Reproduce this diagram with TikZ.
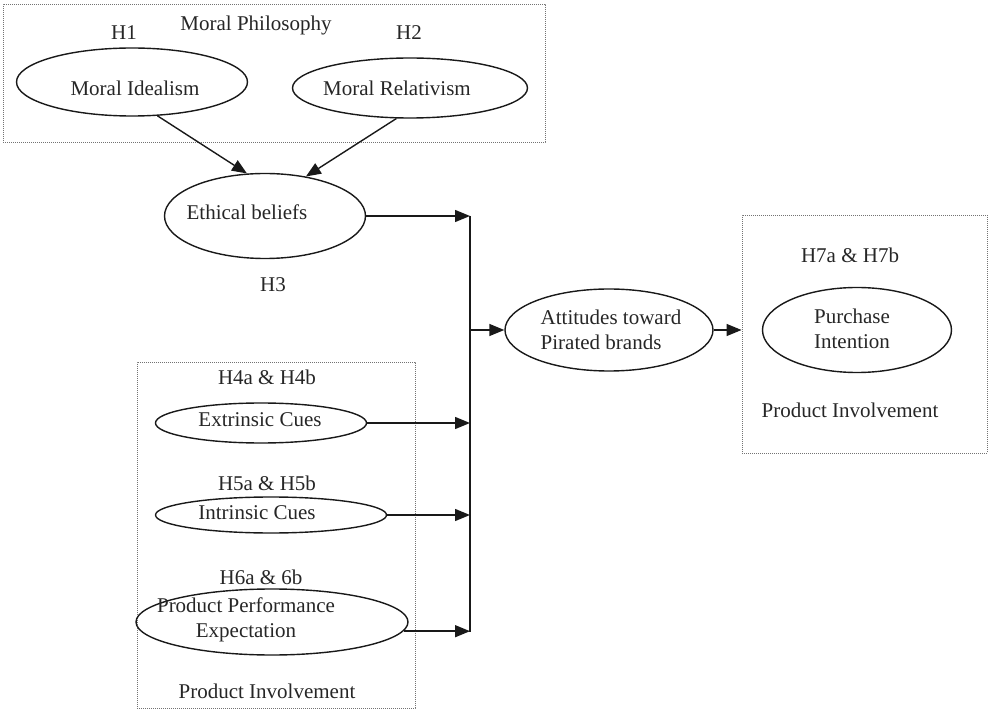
\documentclass[tikz,border=0pt]{standalone}
\usepackage{fontspec}
\setmainfont{Liberation Serif}
\usetikzlibrary{arrows.meta,shapes.geometric}
\begin{document}
\begin{tikzpicture}[x=1pt,y=-1pt,
  lbl/.style={inner sep=0pt, font=\fontsize{21}{24.5}\selectfont, text=black!85, align=center},
  oval/.style={draw=black!90, line width=1.4pt, ellipse, inner sep=0pt},
  dotbox/.style={draw=black!55, line width=0.9pt, dash pattern=on 0.9pt off 1.1pt, rectangle, inner sep=0pt},
  arr/.style={draw=black!90, line width=1.4pt, -{Triangle[length=15pt,width=12pt]}},
  trunk/.style={draw=black!90, line width=1.4pt}]
\useasboundingbox (0,0) rectangle (994,711);

% grouping boxes
\node[dotbox, minimum width=542pt, minimum height=138pt] (philbox) at (274,73) {};
\node[dotbox, minimum width=278pt, minimum height=346pt] (cuebox) at (276,535) {};
\node[dotbox, minimum width=245pt, minimum height=238pt] (intbox) at (864.5,334) {};

% moral philosophy
\node[lbl] (phil) at (256,25) {Moral Philosophy};
\node[lbl] (h1) at (124,33) {H1};
\node[lbl] (h2) at (409,33) {H2};
\node[oval, minimum width=231pt, minimum height=68pt] (mi) at (132,82) {};
\node[lbl] (mit) at (135,88) {Moral Idealism};
\node[oval, minimum width=235pt, minimum height=60pt] (mr) at (410,88) {};
\node[lbl] (mrt) at (397,88) {Moral Relativism};

% ethical beliefs
\node[oval, minimum width=201pt, minimum height=85pt] (eb) at (265,216) {};
\node[lbl] (ebt) at (247,212) {Ethical beliefs};
\node[lbl] (h3) at (273,285) {H3};

% cues
\node[lbl] (h4) at (267,377) {H4a \& H4b};
\node[oval, minimum width=211pt, minimum height=40pt] (ec) at (261,423) {};
\node[lbl] (ect) at (260,420) {Extrinsic Cues};
\node[lbl] (h5) at (267,483) {H5a \& H5b};
\node[oval, minimum width=231pt, minimum height=36pt] (ic) at (271,515) {};
\node[lbl] (ict) at (257,513) {Intrinsic Cues};
\node[lbl] (h6) at (261,577) {H6a \& 6b};
\node[oval, minimum width=272pt, minimum height=66pt] (pp) at (272,622) {};
\node[lbl] (ppt) at (246,620) {Product Performance\\Expectation};
\node[lbl] (pi1) at (267,691) {Product Involvement};

% attitudes
\node[oval, minimum width=208pt, minimum height=82pt] (at) at (609,330) {};
\node[lbl, align=left] (att) at (611,330) {Attitudes toward\\Pirated brands};

% purchase intention
\node[lbl] (h7) at (850,255) {H7a \& H7b};
\node[oval, minimum width=189pt, minimum height=85pt] (pu) at (857,330) {};
\node[lbl] (put) at (852,329) {Purchase\\Intention};
\node[lbl] (pi2) at (850,410) {Product Involvement};

% connectors
\coordinate (tt) at (470,216);
\coordinate (tb) at (470,632);
\draw[trunk] (tt) -- (tb);
\draw[arr] (mi.-53) -- (eb.113);
\draw[arr] (mr.246) -- (eb.44);
\draw[arr] (eb.east) -- (eb.east -| tt);
\draw[arr] (ec.east) -- (ec.east -| tt);
\draw[arr] (ic.east) -- (ic.east -| tt);
\draw[arr] (pp.-4.4) -- (pp.-4.4 -| tt);
\draw[arr] (at.west -| tt) -- (at.west);
\draw[arr] (at.east) -- (at.east -| intbox.west);
\end{tikzpicture}
\end{document}
